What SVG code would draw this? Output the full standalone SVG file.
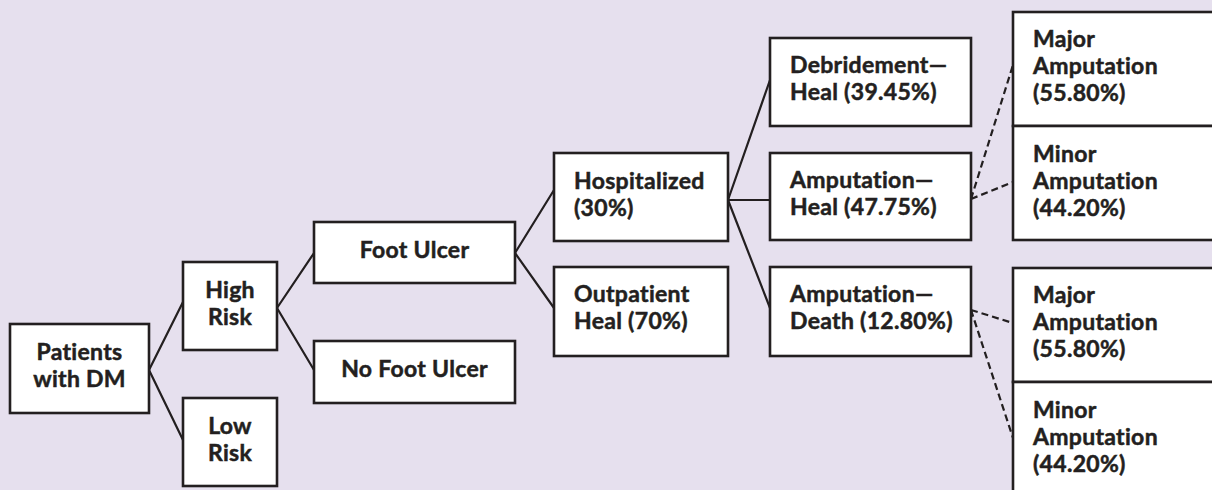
<svg xmlns="http://www.w3.org/2000/svg" width="1212" height="490" viewBox="0 0 1212 490">
<style>
.box{fill:#fff;stroke:#231f20;stroke-width:2.6}
.ln{fill:none;stroke:#231f20;stroke-width:2.2}
.ds{fill:none;stroke:#231f20;stroke-width:2.2;stroke-dasharray:7 4}
text{font-family:Lato,"Open Sans","Liberation Sans",sans-serif;font-weight:bold;font-size:23px;letter-spacing:0.3px;fill:#231f20;stroke:#231f20;stroke-width:0.5}
.c{text-anchor:middle}
</style>
<rect width="1212" height="490" fill="#e6e0ee"/>
<g id="connectors">
<path class="ln" d="M149,370 L183,302 M149,370 L183,440"/>
<path class="ln" d="M277,308 L314,253 M277,308 L314,370"/>
<path class="ln" d="M515,253 L554,190 M515,253 L554,308"/>
<path class="ln" d="M728,200 L770,80 M728,200 L770,200 M728,200 L770,308"/>
<path class="ds" d="M971,199 L1013,65 M971,199 L1013,182"/>
<path class="ds" d="M971,310 L1013,323 M971,310 L1013,438"/>
</g>
<g id="patients"><rect class="box" x="10" y="324" width="139" height="89"/><text class="c" x="79.5" y="360">Patients</text><text class="c" x="79.5" y="387">with DM</text></g>
<g id="high-risk"><rect class="box" x="183" y="262" width="94" height="88"/><text class="c" x="230" y="298">High</text><text class="c" x="230" y="325">Risk</text></g>
<g id="low-risk"><rect class="box" x="183" y="398" width="94" height="88"/><text class="c" x="230" y="434">Low</text><text class="c" x="230" y="461">Risk</text></g>
<g id="foot-ulcer"><rect class="box" x="314" y="222" width="201" height="61"/><text class="c" x="414.5" y="258">Foot Ulcer</text></g>
<g id="no-foot-ulcer"><rect class="box" x="314" y="341" width="201" height="62"/><text class="c" x="414.5" y="377">No Foot Ulcer</text></g>
<g id="hospitalized"><rect class="box" x="554" y="153" width="174" height="88"/><text x="574" y="189">Hospitalized</text><text x="574" y="216">(30%)</text></g>
<g id="outpatient"><rect class="box" x="554" y="267" width="174" height="89"/><text x="574" y="302">Outpatient</text><text x="574" y="329">Heal (70%)</text></g>
<g id="debridement"><rect class="box" x="770" y="38" width="201" height="88"/><text x="790" y="73">Debridement—</text><text x="790" y="100">Heal (39.45%)</text></g>
<g id="amp-heal"><rect class="box" x="770" y="153" width="201" height="87"/><text x="790" y="188">Amputation—</text><text x="790" y="215">Heal (47.75%)</text></g>
<g id="amp-death"><rect class="box" x="770" y="267" width="201" height="89"/><text x="790" y="302">Amputation—</text><text x="790" y="329">Death (12.80%)</text></g>
<g id="major-1"><rect class="box" x="1013" y="12" width="220" height="114"/><text x="1033" y="47">Major</text><text x="1033" y="74">Amputation</text><text x="1033" y="101">(55.80%)</text></g>
<g id="minor-1"><rect class="box" x="1013" y="126" width="220" height="114"/><text x="1033" y="162">Minor</text><text x="1033" y="189">Amputation</text><text x="1033" y="216">(44.20%)</text></g>
<g id="major-2"><rect class="box" x="1013" y="268" width="220" height="114"/><text x="1033" y="303">Major</text><text x="1033" y="330">Amputation</text><text x="1033" y="357">(55.80%)</text></g>
<g id="minor-2"><rect class="box" x="1013" y="382" width="220" height="120"/><text x="1033" y="418">Minor</text><text x="1033" y="445">Amputation</text><text x="1033" y="472">(44.20%)</text></g>
</svg>
